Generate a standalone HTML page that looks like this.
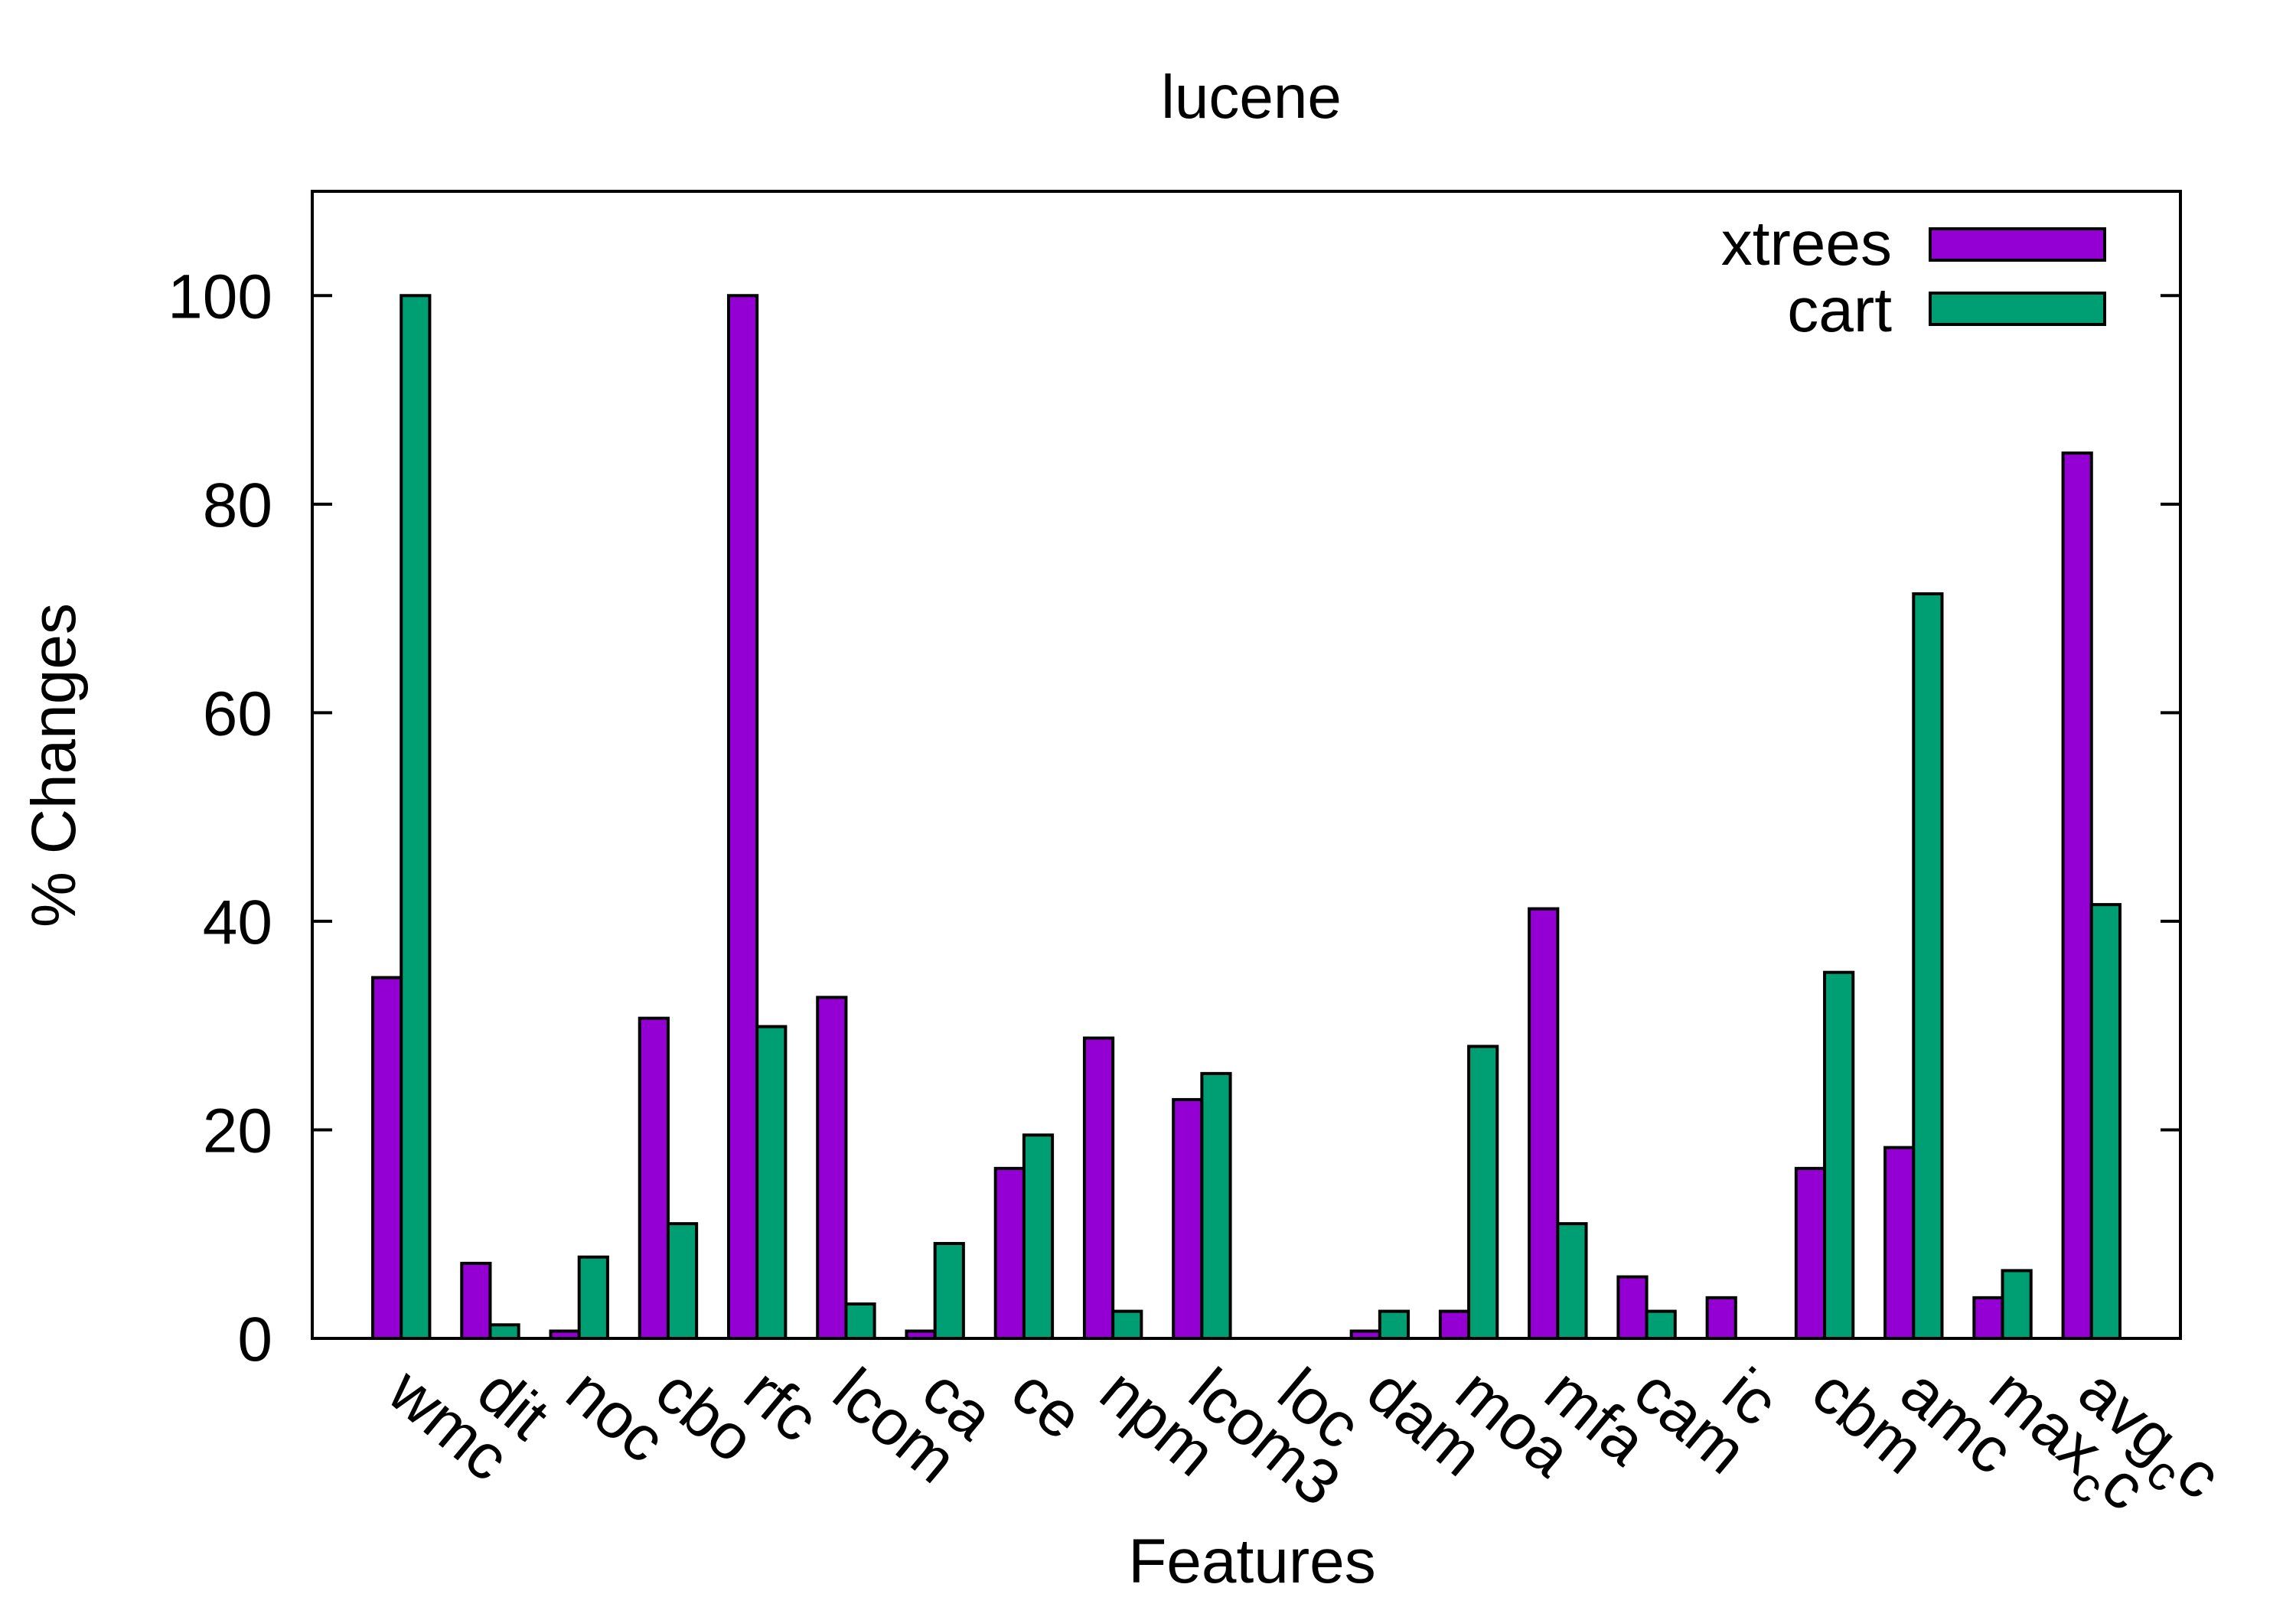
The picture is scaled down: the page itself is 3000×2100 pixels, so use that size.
<!DOCTYPE html>
<html><head><meta charset="utf-8"><style>
html,body{margin:0;padding:0;background:#fff;}
svg{display:block;font-family:"Liberation Sans",sans-serif;}
</style></head><body>
<svg id="chart" width="3000" height="2100" viewBox="0 0 3000 2100" xmlns="http://www.w3.org/2000/svg">
<rect x="0" y="0" width="3000" height="2100" fill="#fff"/>
<text x="1635" y="154" font-size="80" text-anchor="middle">lucene</text>
<text transform="translate(98,1000) rotate(-90)" font-size="82" text-anchor="middle">% Changes</text>
<text x="1636" y="2068" font-size="82" text-anchor="middle">Features</text>
<g id="yaxis"></g>
<g id="bars"></g>
<g id="xlabels"></g>
<rect x="408" y="250" width="2441" height="1499" fill="none" stroke="#000" stroke-width="4"/>
<g>
<text x="2472" y="346" font-size="82" text-anchor="end">xtrees</text>
<rect x="2522" y="299" width="228" height="41" fill="#9400d3" stroke="#000" stroke-width="4"/>
<text x="2472" y="433" font-size="82" text-anchor="end">cart</text>
<rect x="2522" y="383" width="228" height="41" fill="#009e73" stroke="#000" stroke-width="4"/>
</g>
</svg>
<script>
const categories = ["wmc","dit","noc","cbo","rfc","lcom","ca","ce","npm","lcom3","loc","dam","moa","mfa","cam","ic","cbm","amc","max_cc","avg_cc"];
const xtrees = [34.6,7.2,0.7,30.7,100,32.7,0.7,16.3,28.8,22.9,0,0.7,2.6,41.2,5.9,3.9,16.3,18.3,3.9,84.9];
const cart = [100,1.3,7.8,11,29.9,3.3,9.1,19.5,2.6,25.4,0,2.6,28,11,2.6,0,35.1,71.4,6.5,41.6];
const yTicks = [0,20,40,60,80,100];

const NS = "http://www.w3.org/2000/svg";
const X0 = 408, X1 = 2849, Y0 = 1749, Y1 = 250, YMAX = 110;
function xScale(i){ return X0 + (i + 1) * (X1 - X0) / (categories.length + 1); }
function yScale(v){ return Y0 - v * (Y0 - Y1) / YMAX; }
const unit = (X1 - X0) / (categories.length + 1);
const bw = unit * 0.32;

const yaxis = document.getElementById('yaxis');
yTicks.forEach(t => {
  const y = yScale(t);
  [[X0, X0 + 26], [X1 - 26, X1]].forEach(p => {
    const l = document.createElementNS(NS, 'line');
    l.setAttribute('x1', p[0]); l.setAttribute('x2', p[1]);
    l.setAttribute('y1', y); l.setAttribute('y2', y);
    l.setAttribute('stroke', '#000'); l.setAttribute('stroke-width', '4');
    
    
    yaxis.appendChild(l);
  });
  const tx = document.createElementNS(NS, 'text');
  tx.setAttribute('x', 356); tx.setAttribute('y', y + 29);
  tx.setAttribute('font-size', '82'); tx.setAttribute('text-anchor', 'end');
  tx.textContent = t;
  
  
  yaxis.appendChild(tx);
});

const bars = document.getElementById('bars');
function addBar(x, v, color, name){
  const r = document.createElementNS(NS, 'rect');
  const y = yScale(v);
  r.setAttribute('x', x); r.setAttribute('y', y);
  r.setAttribute('width', bw); r.setAttribute('height', Math.max(0, Y0 - y));
  r.setAttribute('fill', color); r.setAttribute('stroke', '#000'); r.setAttribute('stroke-width', '4');
  
  
  bars.appendChild(r);
}
const xl = document.getElementById('xlabels');
categories.forEach((c, i) => {
  const cx = xScale(i);
  if (xtrees[i] > 0) addBar(cx - bw, xtrees[i], '#9400d3', 'bar-xtrees-' + c);
  if (cart[i] > 0) addBar(cx, cart[i], '#009e73', 'bar-cart-' + c);
  const t = document.createElementNS(NS, 'text');
  t.setAttribute('transform', 'translate(' + (cx - 22) + ',1828) rotate(40)');
  t.setAttribute('font-size', '84');
  const parts = c.split('_');
  if (parts.length === 2) {
    t.appendChild(document.createTextNode(parts[0]));
    const s = document.createElementNS(NS, 'tspan');
    s.setAttribute('font-size', '64'); s.setAttribute('dy', '22');
    s.textContent = parts[1][0];
    t.appendChild(s);
    const s2 = document.createElementNS(NS, 'tspan');
    s2.setAttribute('dy', '-22');
    s2.textContent = parts[1].slice(1);
    t.appendChild(s2);
  } else {
    t.textContent = c;
  }
  
  
  xl.appendChild(t);
});
</script>
</body></html>
